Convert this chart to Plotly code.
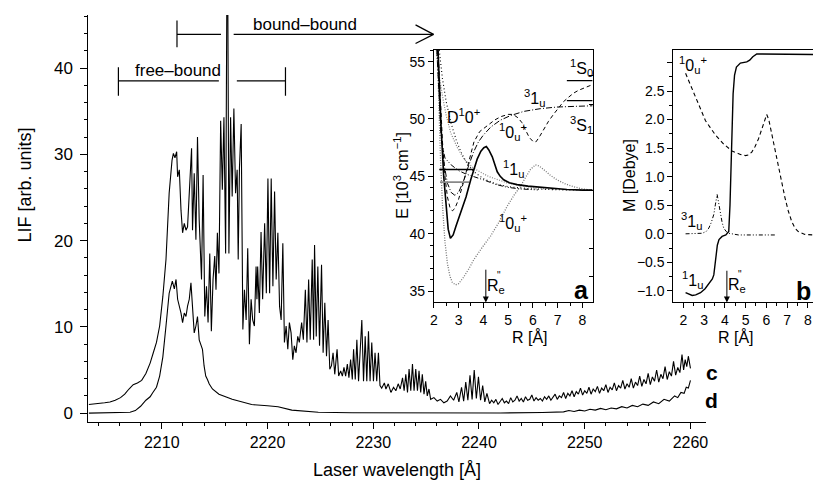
import plotly.graph_objects as go

W, H = 815, 485
FONT = "Liberation Sans, Arial, Helvetica, sans-serif"

def px(x):
    return x / W

def py(y):
    return 1 - y / H

# ---------------- main spectra (wavelength [A], LIF) ----------------
c_points = [
    (2203.1, 1.0), (2203.6, 1.05), (2204.1, 1.1), (2204.6, 1.2), (2205.1, 1.3), (2205.6, 1.5),
    (2206.1, 1.8), (2206.5, 2.2), (2206.9, 2.8), (2207.3, 3.3), (2207.7, 3.5), (2208.1, 3.8),
    (2208.5, 4.6), (2208.9, 5.8), (2209.2, 7.0), (2209.5, 8.2), (2209.8, 10.1), (2210.1, 13.5),
    (2210.4, 17.8), (2210.7, 25.5), (2210.97, 29.3), (2211.1, 30.1), (2211.25, 29.6), (2211.41, 30.3),
    (2211.5, 27.4), (2211.66, 28.2), (2211.82, 23.5), (2211.97, 20.9), (2212.13, 22.0), (2212.29, 21.2),
    (2212.44, 21.6), (2212.66, 27.4), (2212.82, 30.7), (2212.91, 21.2), (2213.07, 27.8), (2213.23, 20.1),
    (2213.38, 32.0), (2213.54, 22.4), (2213.76, 15.5), (2213.91, 27.6), (2214.07, 11.2), (2214.23, 14.7),
    (2214.38, 10.5), (2214.54, 18.5), (2214.69, 9.5), (2214.85, 15.5), (2215.01, 18.2), (2215.13, 14.3),
    (2215.26, 20.9), (2215.41, 16.2), (2215.57, 33.9), (2215.73, 25.9), (2215.88, 34.3), (2216.04, 18.5),
    (2216.15, 47.0), (2216.25, 47.0), (2216.35, 18.5), (2216.51, 34.3), (2216.66, 25.1), (2216.82, 35.3),
    (2216.98, 25.5), (2217.13, 28.2), (2217.23, 17.8), (2217.35, 28.5), (2217.51, 33.5), (2217.67, 9.7),
    (2217.82, 14.3), (2217.98, 10.8), (2218.13, 19.1), (2218.29, 8.0), (2218.45, 13.2), (2218.6, 10.8),
    (2218.76, 10.1), (2218.92, 17.0), (2219.0, 13.2), (2219.07, 17.0), (2219.23, 11.6), (2219.39, 21.0),
    (2219.54, 13.2), (2219.73, 22.0), (2219.89, 13.9), (2220.04, 27.2), (2220.2, 13.9), (2220.35, 27.2),
    (2220.51, 14.7), (2220.67, 25.7), (2220.82, 15.5), (2220.98, 20.9), (2221.14, 12.4), (2221.29, 10.8),
    (2221.45, 19.7), (2221.6, 8.2), (2221.76, 10.1), (2221.92, 7.4), (2222.07, 10.5), (2222.23, 9.3),
    (2222.39, 6.2), (2222.54, 7.8), (2222.7, 7.0), (2222.86, 8.9), (2223.01, 8.2), (2223.23, 10.5),
    (2223.39, 8.5), (2223.58, 14.3), (2223.73, 8.2), (2223.89, 15.5), (2224.04, 8.5), (2224.23, 17.8),
    (2224.36, 8.5), (2224.45, 19.5), (2224.61, 8.9), (2224.76, 17.0), (2224.92, 7.8), (2225.11, 17.2),
    (2225.26, 7.0), (2225.42, 12.8), (2225.58, 6.6), (2225.73, 10.8), (2225.89, 5.1), (2226.05, 5.5),
    (2226.2, 7.0), (2226.36, 4.5), (2226.58, 7.4), (2226.73, 4.3), (2226.92, 4.9), (2227.08, 4.3),
    (2227.23, 5.3), (2227.39, 4.3), (2227.55, 5.7), (2227.7, 4.1), (2227.86, 6.2), (2228.02, 3.9),
    (2228.14, 7.4), (2228.3, 3.9), (2228.45, 8.5), (2228.61, 3.7), (2228.77, 7.8), (2228.92, 10.8),
    (2229.08, 3.7), (2229.24, 8.9), (2229.39, 3.7), (2229.55, 9.5), (2229.7, 3.7), (2229.86, 8.2),
    (2230.02, 3.7), (2230.17, 7.0), (2230.33, 3.7), (2230.49, 7.0), (2230.64, 3.2), (2230.8, 2.9),
    (2231.05, 3.5), (2231.2, 2.8), (2231.42, 3.4), (2231.67, 2.4), (2231.92, 3.0), (2232.14, 2.6),
    (2232.36, 3.4), (2232.55, 2.8), (2232.77, 4.1), (2232.92, 2.6), (2233.08, 4.5), (2233.24, 2.4),
    (2233.39, 5.1), (2233.55, 2.6), (2233.71, 5.7), (2233.86, 2.6), (2234.02, 5.1), (2234.18, 2.6),
    (2234.33, 4.9), (2234.49, 2.4), (2234.64, 4.5), (2234.8, 2.2), (2234.96, 3.7), (2235.11, 2.0),
    (2235.27, 2.8), (2235.43, 1.6), (2235.74, 1.8), (2236.05, 1.4), (2236.36, 1.6), (2236.68, 1.2),
    (2236.99, 1.4), (2237.3, 2.0), (2237.6, 1.5), (2237.9, 2.4), (2238.1, 1.3), (2238.35, 3.0),
    (2238.55, 1.4), (2238.75, 3.6), (2238.95, 1.5), (2239.15, 4.4), (2239.35, 1.6), (2239.55, 5.0),
    (2239.75, 1.7), (2239.95, 4.2), (2240.15, 1.5), (2240.35, 3.2), (2240.55, 1.3), (2240.75, 2.3),
    (2241.0, 1.1), (2241.2, 1.5), (2241.4, 1.2), (2241.6, 1.6), (2241.8, 1.0), (2242.0, 1.3),
    (2242.2, 1.7), (2242.4, 1.2), (2242.6, 1.4), (2242.8, 1.1), (2243.0, 1.8), (2243.2, 1.3),
    (2243.4, 1.5), (2243.6, 2.0), (2243.8, 1.4), (2244.0, 1.7), (2244.2, 1.3), (2244.4, 1.9),
    (2244.6, 1.5), (2244.8, 1.6), (2245.0, 2.1), (2245.2, 1.4), (2245.4, 1.8), (2245.6, 1.5),
    (2245.8, 1.7), (2246.0, 1.4), (2246.2, 1.9), (2246.4, 1.6), (2246.6, 2.0), (2246.8, 1.5),
    (2247.0, 1.8), (2247.2, 2.2), (2247.4, 1.6), (2247.6, 2.0), (2247.8, 1.8), (2248.0, 2.4),
    (2248.2, 1.7), (2248.4, 2.3), (2248.6, 2.0), (2248.8, 2.6), (2249.0, 1.9), (2249.2, 2.5),
    (2249.4, 2.2), (2249.6, 2.9), (2249.8, 2.1), (2250.0, 2.6), (2250.2, 2.3), (2250.4, 3.0),
    (2250.6, 2.2), (2250.8, 2.8), (2251.0, 2.5), (2251.2, 3.1), (2251.4, 2.3), (2251.6, 2.9),
    (2251.8, 2.6), (2252.0, 3.3), (2252.2, 2.4), (2252.4, 3.0), (2252.6, 2.7), (2252.8, 3.5),
    (2253.0, 2.6), (2253.2, 3.2), (2253.4, 2.9), (2253.6, 3.8), (2253.8, 2.8), (2254.0, 3.4),
    (2254.2, 3.0), (2254.4, 4.0), (2254.6, 2.9), (2254.8, 3.6), (2255.0, 3.2), (2255.2, 4.3),
    (2255.4, 3.1), (2255.6, 3.9), (2255.8, 3.4), (2256.0, 4.6), (2256.2, 3.3), (2256.4, 4.2),
    (2256.6, 3.7), (2256.8, 5.0), (2257.0, 3.6), (2257.2, 4.5), (2257.4, 4.0), (2257.6, 5.4),
    (2257.8, 3.9), (2258.0, 4.8), (2258.2, 4.3), (2258.4, 6.0), (2258.6, 4.4), (2258.8, 5.3),
    (2259.0, 4.7), (2259.2, 6.8), (2259.35, 5.0), (2259.5, 6.2), (2259.65, 5.4), (2259.8, 6.6),
    (2260.0, 5.2),
]

d_points = [
    (2203.1, 0.0), (2204.0, 0.02), (2205.0, 0.0), (2206.0, 0.05), (2207.0, 0.1), (2207.5, 0.3),
    (2208.0, 0.8), (2208.5, 1.5), (2208.9, 1.9), (2209.16, 2.4), (2209.5, 3.0), (2209.8, 4.3),
    (2210.1, 6.5), (2210.4, 10.1), (2210.7, 13.9), (2211.0, 15.3), (2211.19, 14.4), (2211.35, 15.5),
    (2211.5, 13.2), (2211.82, 11.6), (2211.97, 10.5), (2212.13, 11.6), (2212.29, 11.2), (2212.44, 12.4),
    (2212.6, 13.2), (2212.76, 15.1), (2212.91, 12.4), (2213.07, 9.3), (2213.23, 10.1), (2213.38, 11.2),
    (2213.54, 8.5), (2213.7, 7.8), (2213.85, 7.4), (2214.0, 5.5), (2214.16, 4.3), (2214.32, 3.9),
    (2214.48, 3.4), (2214.79, 2.8), (2215.41, 2.2), (2216.66, 1.6), (2218.5, 1.0), (2220.0, 0.85),
    (2221.0, 0.75), (2222.3, 0.35), (2224.8, 0.1), (2228.0, 0.05), (2235.0, 0.0), (2242.0, 0.02),
    (2246.0, 0.08), (2248.0, 0.15), (2248.5, 0.3), (2249.0, 0.2), (2249.5, 0.35), (2250.0, 0.25),
    (2250.5, 0.45), (2251.0, 0.35), (2251.5, 0.55), (2252.0, 0.4), (2252.5, 0.6), (2253.0, 0.5),
    (2253.5, 0.75), (2254.0, 0.6), (2254.5, 0.9), (2255.0, 0.75), (2255.5, 1.05), (2256.0, 0.9),
    (2256.5, 1.3), (2257.0, 1.1), (2257.5, 1.6), (2258.0, 1.4), (2258.5, 2.0), (2258.8, 1.8),
    (2259.1, 2.4), (2259.4, 2.3), (2259.6, 3.0), (2259.8, 2.9), (2260.0, 3.8),
]

main_xticks = [2210, 2220, 2230, 2240, 2250, 2260]
main_yticks = [0, 10, 20, 30, 40]

# ---------------- inset a: potential curves (R [A], E [10^3 cm^-1]) ----------------
a_11u = [(2.17, 56.0), (2.22, 53.0), (2.3, 49.0), (2.4, 45.0), (2.5, 42.0), (2.58, 40.4), (2.67, 39.6),
         (2.78, 39.9), (2.9, 40.7), (3.08, 41.8), (3.3, 43.2), (3.49, 44.7), (3.62, 45.6), (3.75, 46.5),
         (3.9, 47.2), (4.02, 47.5), (4.12, 47.6), (4.22, 47.3), (4.36, 46.7), (4.46, 46.0), (4.56, 45.4),
         (4.68, 45.0), (4.82, 44.7), (5.05, 44.45), (5.36, 44.28), (5.8, 44.15), (6.3, 44.05), (6.8, 43.95),
         (7.37, 43.85), (8.0, 43.8), (8.41, 43.8)]
a_10u_upper = [(2.17, 56.0), (2.25, 52.0), (2.35, 48.0), (2.45, 45.0), (2.55, 43.2), (2.65, 42.3), (2.75, 42.0),
               (2.85, 42.2), (3.0, 43.0), (3.2, 44.5), (3.4, 46.2), (3.62, 48.0), (3.85, 48.9), (4.15, 49.4),
               (4.45, 49.9), (4.7, 50.2), (5.0, 50.4), (5.2, 50.4), (5.4, 50.1), (5.55, 49.7), (5.7, 49.1),
               (5.85, 48.4), (6.0, 48.05), (6.12, 48.0), (6.25, 48.4), (6.43, 49.1), (6.63, 49.8), (6.83, 50.4),
               (7.03, 51.0), (7.23, 51.5), (7.44, 51.9), (7.64, 52.25), (7.84, 52.5), (8.04, 52.7), (8.24, 52.9),
               (8.41, 53.0)]
a_31u = [(2.12, 56.0), (2.2, 52.0), (2.3, 48.5), (2.42, 46.0), (2.55, 44.4), (2.7, 43.6), (2.85, 43.35),
         (3.0, 43.6), (3.2, 44.6), (3.4, 45.9), (3.6, 47.1), (3.8, 48.0), (4.0, 48.6), (4.3, 49.3), (4.69, 49.9),
         (5.1, 50.3), (5.63, 50.66), (6.3, 50.9), (6.97, 51.04), (7.7, 51.1), (8.41, 51.15)]
a_D10 = [(2.22, 56.0), (2.35, 53.5), (2.5, 51.5), (2.7, 49.6), (2.9, 48.2), (3.1, 47.1), (3.35, 46.1),
         (3.62, 45.4), (4.0, 44.8), (4.5, 44.35), (5.0, 44.1), (5.5, 43.98), (6.0, 43.9), (7.0, 43.83), (8.41, 43.8)]
a_dashdotdot = [(2.15, 56.0), (2.2, 52.5), (2.27, 49.5), (2.35, 47.6), (2.45, 46.6), (2.7, 46.0), (3.0, 45.5),
                (3.3, 45.2), (3.62, 45.0), (4.0, 44.7), (4.5, 44.3), (4.96, 44.05), (5.5, 43.9), (6.2, 43.82)]
a_10u_lower = [(2.14, 56.0), (2.2, 51.0), (2.27, 46.5), (2.35, 42.5), (2.45, 39.3), (2.55, 37.4), (2.65, 36.3),
               (2.75, 35.75), (2.88, 35.55), (3.0, 35.65), (3.2, 36.2), (3.4, 36.9), (3.62, 37.76), (3.95, 38.8),
               (4.29, 39.8), (4.6, 40.9), (4.96, 42.4), (5.25, 43.4), (5.49, 44.1), (5.7, 44.9), (5.9, 45.6),
               (6.1, 46.0), (6.25, 45.9), (6.43, 45.6), (6.7, 45.1), (6.97, 44.7), (7.3, 44.35), (7.64, 44.1),
               (8.0, 43.9), (8.41, 43.8)]
a_gray_fall = [(2.1, 56.0), (2.2, 54.0), (2.35, 52.0), (2.5, 50.3), (2.68, 48.8), (2.95, 47.5), (3.22, 46.5),
               (3.45, 46.0), (3.69, 45.6), (4.2, 45.0), (5.0, 44.4), (6.0, 44.0), (7.0, 43.85)]
a_level_black = (45.6, 2.22, 3.62)
a_level_gray = (44.5, 2.25, 3.42)
a_asymptotes = [(53.35, 7.37, 8.41), (51.6, 7.37, 8.41)]

# ---------------- inset b: transition dipole moments (R [A], M [Debye]) ----------------
b_11u = [(2.11, -1.03), (2.25, -1.05), (2.43, -1.08), (2.6, -1.07), (2.83, -1.03), (3.05, -0.96), (3.23, -0.88),
         (3.4, -0.79), (3.47, -0.72), (3.52, -0.55), (3.58, -0.35), (3.64, -0.2), (3.72, -0.1), (3.87, -0.045),
         (4.05, -0.02), (4.19, 0.04), (4.25, 0.5), (4.3, 1.1), (4.35, 1.9), (4.4, 2.45), (4.47, 2.78),
         (4.56, 2.92), (4.75, 2.99), (5.06, 3.01), (5.2, 3.04), (5.35, 3.1), (5.54, 3.15), (5.94, 3.15),
         (7.0, 3.14), (8.25, 3.14)]
b_10u = [(2.11, 2.81), (2.35, 2.6), (2.59, 2.40), (2.83, 2.19), (3.07, 1.98), (3.3, 1.86), (3.55, 1.73),
         (3.95, 1.57), (4.35, 1.45), (4.75, 1.39), (5.0, 1.37), (5.14, 1.38), (5.3, 1.43), (5.46, 1.53),
         (5.62, 1.66), (5.78, 1.83), (5.92, 2.0), (6.02, 2.09), (6.12, 2.0), (6.26, 1.75), (6.42, 1.45),
         (6.58, 1.16), (6.75, 0.88), (6.9, 0.63), (7.06, 0.4), (7.22, 0.22), (7.38, 0.1), (7.54, 0.04),
         (7.86, -0.01), (8.25, -0.02)]
b_31u = [(2.11, 0.0), (2.5, 0.005), (2.91, 0.01), (3.1, 0.04), (3.23, 0.1), (3.35, 0.2), (3.47, 0.34),
         (3.55, 0.52), (3.63, 0.69), (3.7, 0.55), (3.79, 0.34), (3.87, 0.2), (3.95, 0.1), (4.07, 0.04),
         (4.19, 0.01), (4.66, -0.02), (5.5, -0.02), (6.42, -0.02)]
b_yticks = [-1.0, -0.5, 0.0, 0.5, 1.0, 1.5, 2.0, 2.5, 3.0]
b_yticktext = ["\u22121.0", "\u22120.5", "0.0", "0.5", "1.0", "1.5", "2.0", "2.5", ""]

Re_R = 4.1  # ground-state equilibrium distance marked by the arrows


def xs(pts):
    return [p[0] for p in pts]


def ys(pts):
    return [p[1] for p in pts]


fig = go.Figure()

# main spectra
for pts in (c_points, d_points):
    fig.add_trace(go.Scatter(x=xs(pts), y=ys(pts), mode="lines",
                             line=dict(color="black", width=1.1), xaxis="x", yaxis="y",
                             hoverinfo="skip", showlegend=False))

# inset a curves
def add_a(pts, color="black", width=1.0, dash="solid"):
    fig.add_trace(go.Scatter(x=xs(pts), y=ys(pts), mode="lines", line=dict(color=color, width=width, dash=dash),
                             xaxis="x2", yaxis="y2", hoverinfo="skip", showlegend=False))

add_a(a_10u_lower, color="#777777", width=1.3, dash="1px,1.5px")
add_a(a_gray_fall, color="#888888", width=1.2, dash="1px,1.5px")
add_a(a_D10, width=1.1, dash="1px,2.5px")
add_a(a_dashdotdot, width=1.0, dash="5px,2px,1px,2px,1px,2px")
add_a(a_31u, width=1.0, dash="6px,2px,1px,2px")
add_a(a_10u_upper, width=1.0, dash="4px,3px")
add_a(a_11u, width=1.6)
add_a([(a_level_gray[1], a_level_gray[0]), (a_level_gray[2], a_level_gray[0])], color="#888888", width=1.6)
add_a([(a_level_black[1], a_level_black[0]), (a_level_black[2], a_level_black[0])], width=1.3)
for e, r0, r1 in a_asymptotes:
    add_a([(r0, e), (r1, e)], width=1.3)

# invisible trace so that the right-hand inner tick axis of inset a is drawn
fig.add_trace(go.Scatter(x=[2.0], y=[None], xaxis="x2", yaxis="y4", mode="lines",
                         hoverinfo="skip", showlegend=False))

# inset b curves
def add_b(pts, color="black", width=1.0, dash="solid"):
    fig.add_trace(go.Scatter(x=xs(pts), y=ys(pts), mode="lines", line=dict(color=color, width=width, dash=dash),
                             xaxis="x3", yaxis="y3", hoverinfo="skip", showlegend=False))

add_b(b_31u, width=1.0, dash="4px,2px,1px,2px,1px,2px")
add_b(b_10u, width=1.1, dash="4px,3px")
add_b(b_11u, width=1.4)

# ---------------- layout ----------------
axis_common = dict(showline=True, linecolor="black", linewidth=1, showgrid=False, zeroline=False,
                   ticks="outside", tickcolor="black", tickwidth=1)

main_dom_x = [px(85), px(707)]
main_dom_y = [py(423), py(15)]
ina_dom_x = [px(433), px(593)]
inb_dom_x = [px(674.3), 1.0]
ins_dom_y = [py(303), py(50)]

fig.update_layout(
    width=W, height=H, margin=dict(l=0, r=0, t=0, b=0),
    paper_bgcolor="white", plot_bgcolor="rgba(0,0,0,0)",
    font=dict(family=FONT, color="black", size=14),
    xaxis=dict(domain=main_dom_x, range=[2203.06, 2261.45], anchor="y", tickvals=main_xticks,
               ticklen=6, tickfont=dict(size=16),
               minor=dict(dtick=2, tick0=2200, ticklen=3, ticks="outside", tickcolor="black"), **axis_common),
    yaxis=dict(domain=main_dom_y, range=[-1.04, 46.15], anchor="x", tickvals=main_yticks,
               ticklen=7, tickfont=dict(size=17), ticklabelstandoff=4,
               minor=dict(dtick=2, tick0=0, ticklen=3, ticks="outside", tickcolor="black"), **axis_common),
    xaxis2=dict(domain=ina_dom_x, range=[2.0, 8.41], anchor="y2", dtick=1, tick0=0, ticklen=5,
                tickfont=dict(size=14), mirror=True,
                minor=dict(dtick=0.5, ticklen=3, ticks="outside", tickcolor="black"), **axis_common),
    yaxis2=dict(domain=ins_dom_y, range=[34.02, 56.02], anchor="x2", dtick=5, tick0=0, ticklen=5,
                tickfont=dict(size=14), mirror=True,
                minor=dict(dtick=1, ticklen=3, ticks="outside", tickcolor="black"), **axis_common),
    yaxis4=dict(overlaying="y2", side="right", anchor="x2", range=[34.02, 56.02], showgrid=False,
                zeroline=False, showline=False, showticklabels=False, ticks="inside", ticklen=4,
                tickcolor="black", tickvals=[36.25, 38.75, 41.25, 43.75, 46.25, 48.75, 51.25, 53.75]),
    xaxis3=dict(domain=inb_dom_x, range=[1.52, 8.25], anchor="y3", dtick=1, tick0=0, ticklen=5,
                tickfont=dict(size=14), mirror=True,
                minor=dict(dtick=0.5, ticklen=3, ticks="outside", tickcolor="black"), **axis_common),
    yaxis3=dict(domain=ins_dom_y, range=[-1.2, 3.22], anchor="x3", tickmode="array", tickvals=b_yticks,
                ticktext=b_yticktext, ticklen=5, tickfont=dict(size=14),
                minor=dict(tickmode="array", tickvals=[-0.75, -0.25, 0.25, 0.75, 1.25, 1.75, 2.25, 2.75],
                           ticklen=3, ticks="outside", tickcolor="black"), **axis_common),
)

ann = []

def paper_text(text, x, y, size=14, angle=0, bold=False, xanchor="center"):
    ann.append(dict(text=("<b>%s</b>" % text) if bold else text, x=px(x), y=py(y), xref="paper", yref="paper",
                    showarrow=False, textangle=angle, xanchor=xanchor, yanchor="middle",
                    font=dict(size=size, family=FONT, color="black")))

# axis titles
paper_text("Laser wavelength [\u00c5]", 396, 471, size=18)
paper_text("LIF [arb. units]", 21, 185, size=18, angle=-90)
paper_text("R [\u00c5]", 530, 338, size=16)
paper_text("R [\u00c5]", 737, 338, size=16)
paper_text("E [10<sup>3</sup> cm<sup>\u22121</sup>]", 400, 176, size=16, angle=-90)
paper_text("M [Debye]", 630, 176, size=16, angle=-90)
paper_text("c", 713, 373, size=21, bold=True)
paper_text("d", 713, 401, size=21, bold=True)


def data_text(text, x, y, xr, yr, size=16, bold=False):
    ann.append(dict(text=("<b>%s</b>" % text) if bold else text, x=x, y=y, xref=xr, yref=yr, showarrow=False,
                    xanchor="center", yanchor="middle", font=dict(size=size, family=FONT, color="black")))

# inset a labels
data_text("<sup>1</sup>S<sub>0</sub>", 7.95, 54.4, "x2", "y2")
data_text("<sup>3</sup>1<sub>u</sub>", 6.05, 51.8, "x2", "y2")
data_text("D<sup>1</sup>0<sup>+</sup>", 3.2, 50.3, "x2", "y2")
data_text("<sup>1</sup>0<sub>u</sub><sup>+</sup>", 5.2, 48.9, "x2", "y2")
data_text("<sup>3</sup>S<sub>1</sub>", 7.95, 49.5, "x2", "y2")
data_text("<sup>1</sup>1<sub>u</sub>", 5.2, 45.6, "x2", "y2")
data_text("<sup>1</sup>0<sub>u</sub><sup>+</sup>", 5.2, 40.9, "x2", "y2")
data_text("R<sub>e</sub>", 4.5, 35.4, "x2", "y2")
data_text("\"", 4.62, 36.4, "x2", "y2", size=10)
data_text("a", 7.97, 35.1, "x2", "y2", size=25, bold=True)

# inset b labels
data_text("<sup>1</sup>0<sub>u</sub><sup>+</sup>", 2.45, 2.95, "x3", "y3")
data_text("<sup>3</sup>1<sub>u</sub>", 2.38, 0.22, "x3", "y3")
data_text("<sup>1</sup>1<sub>u</sub>", 2.45, -0.8, "x3", "y3")
data_text("R<sub>e</sub>", 4.6, -0.9, "x3", "y3")
data_text("\"", 4.74, -0.72, "x3", "y3", size=10)
data_text("b", 7.8, -1.0, "x3", "y3", size=25, bold=True)

# R_e'' arrows
for xr, yr, ytip, ytail in (("x2", "y2", 34.02, 37.0), ("x3", "y3", -1.2, -0.62)):
    ann.append(dict(x=Re_R, y=ytip, ax=Re_R, ay=ytail, xref=xr, yref=yr, axref=xr, ayref=yr, text="",
                    showarrow=True, arrowhead=2, arrowsize=1.2, arrowwidth=1, arrowcolor="black"))

# bracket texts in main frame
data_text("bound\u2013bound", 2223.5, 45.0, "x", "y", size=17)
data_text("free\u2013bound", 2211.5, 39.7, "x", "y", size=17)

shapes = []

def seg(x0, y0, x1, y1, width=1.2):
    shapes.append(dict(type="line", x0=x0, y0=y0, x1=x1, y1=y1, xref="x", yref="y",
                       line=dict(color="black", width=width)))

# bound-bound bracket with open arrow head
bb_y, bb_start, bb_gap0, bb_gap1, bb_end = 43.9, 2211.44, 2215.6, 2216.8, 2235.7
seg(bb_start, 42.4, bb_start, 45.5)
seg(bb_start, bb_y, bb_gap0, bb_y)
seg(bb_gap1, bb_y, bb_end, bb_y)
seg(2234.0, 45.0, bb_end, bb_y)
seg(2234.0, 42.85, bb_end, bb_y)
# free-bound bracket
fb_y, fb_start, fb_gap0, fb_gap1, fb_end = 38.5, 2205.9, 2215.4, 2217.1, 2221.7
seg(fb_start, 36.8, fb_start, 40.1)
seg(fb_start, fb_y, fb_gap0, fb_y)
seg(fb_gap1, fb_y, fb_end, fb_y)
seg(fb_end, 36.8, fb_end, 40.1)

fig.update_layout(annotations=ann, shapes=shapes)

# remove the browser's default page margin so the figure sits at the window's top-left corner
fig.write_html("out.html", config={"displayModeBar": False},
               post_script="document.body.style.margin='0px';document.body.style.overflow='hidden';"
                           "document.documentElement.style.overflow='hidden';")
